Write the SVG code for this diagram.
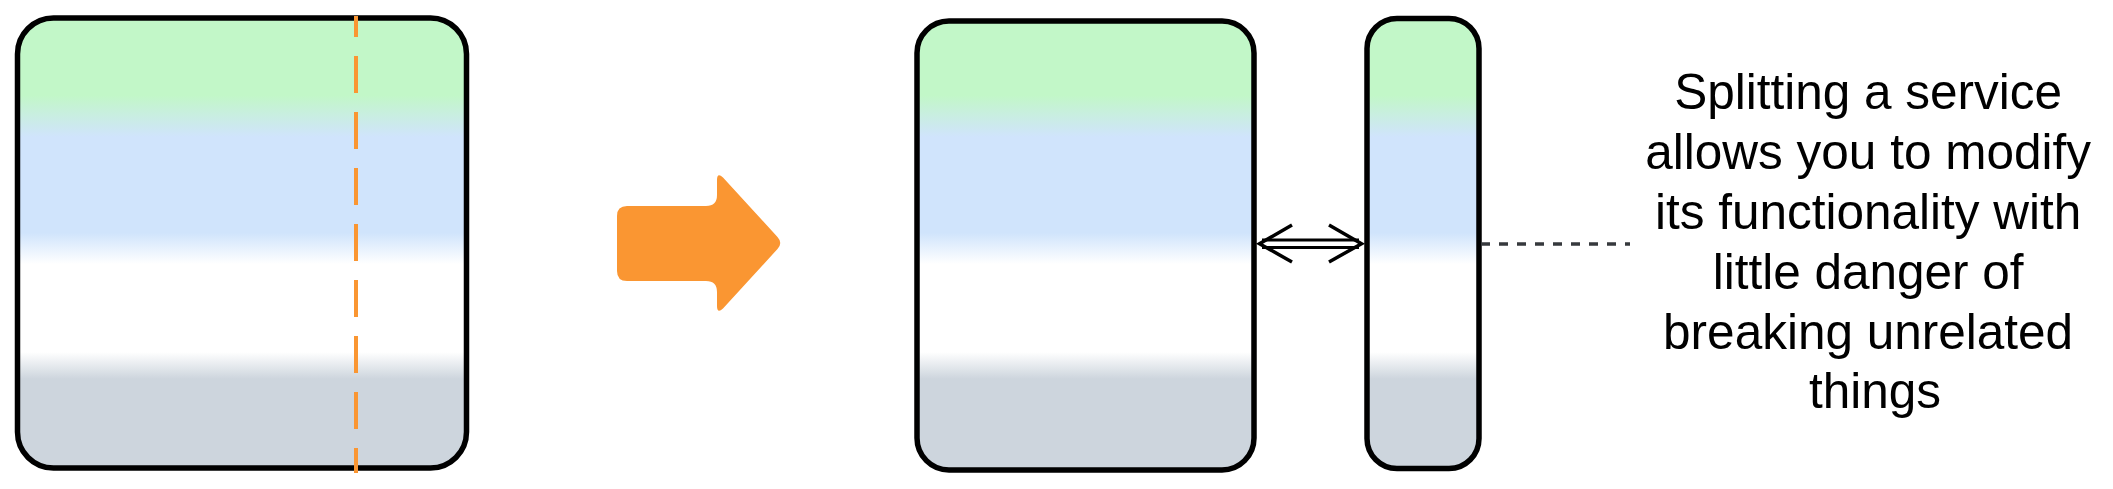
<svg xmlns="http://www.w3.org/2000/svg" width="2113" height="489" viewBox="0 0 2113 489">
  <style>
    .box { stroke: #000000; stroke-width: 5.5; fill: url(#layers); }
    .lbl { font-family: "Liberation Sans", Arial, sans-serif; font-size: 49.5px; fill: #000000; text-anchor: middle; }
    .split { stroke: #fa9632; stroke-width: 4; stroke-dasharray: 37 19; stroke-dashoffset: 16; fill: none; }
    .link { stroke: #000000; stroke-width: 3; fill: none; }
    .head { stroke: #000000; stroke-width: 3.5; fill: none; }
    .note { stroke: #36393d; stroke-width: 3.5; stroke-dasharray: 9 9; fill: none; }
  </style>
  <defs>
    <linearGradient id="layers" gradientUnits="userSpaceOnUse" x1="0" y1="0" x2="0" y2="489">
      <stop offset="0" stop-color="#c2f7c8"/>
      <stop offset="0.195" stop-color="#c2f7c8"/>
      <stop offset="0.28" stop-color="#d0e4fc"/>
      <stop offset="0.476" stop-color="#d0e4fc"/>
      <stop offset="0.54" stop-color="#ffffff"/>
      <stop offset="0.72" stop-color="#ffffff"/>
      <stop offset="0.775" stop-color="#cdd5dd"/>
      <stop offset="1" stop-color="#cdd5dd"/>
    </linearGradient>
  </defs>

  <g id="service-original">
    <rect class="box" x="17.5" y="18" width="449" height="450" rx="36" ry="36"/>
    <line class="split" x1="356" y1="16" x2="356" y2="473"/>
  </g>

  <g id="transform-arrow">
    <path fill="#fa9632" d="M 627,206 L 706,206 Q 717,206 717,195 L 717,180 Q 717,172 723,177.5 L 777.5,237 Q 783,243 777.5,249 L 723,308.5 Q 717,314 717,306 L 717,292 Q 717,281 706,281 L 627,281 Q 617,281 617,271 L 617,216 Q 617,206 627,206 Z"/>
  </g>

  <g id="service-main">
    <rect class="box" x="917" y="21" width="337" height="449" rx="32" ry="32"/>
  </g>

  <g id="service-split">
    <rect class="box" x="1367" y="18.5" width="112" height="450" rx="30" ry="30"/>
  </g>

  <g id="note">
    <text class="lbl">
      <tspan x="1875" y="109.3">Splitting a service</tspan>
      <tspan x="1875" y="169.1">allows you to modify</tspan>
      <tspan x="1875" y="228.9">its functionality with</tspan>
      <tspan x="1875" y="288.7">little danger of</tspan>
      <tspan x="1875" y="348.5">breaking unrelated</tspan>
      <tspan x="1875" y="408.3">things</tspan>
    </text>
  </g>

  <g id="connectors">
    <line class="link" x1="1262" y1="240" x2="1359" y2="240"/>
    <line class="link" x1="1262" y1="247.5" x2="1359" y2="247.5"/>
    <polyline class="head" points="1292,225 1259.5,243.7 1292,262"/>
    <polyline class="head" points="1329,225 1361.5,243.7 1329,262"/>
    <line class="note" x1="1481" y1="244" x2="1630" y2="244"/>
  </g>
</svg>
